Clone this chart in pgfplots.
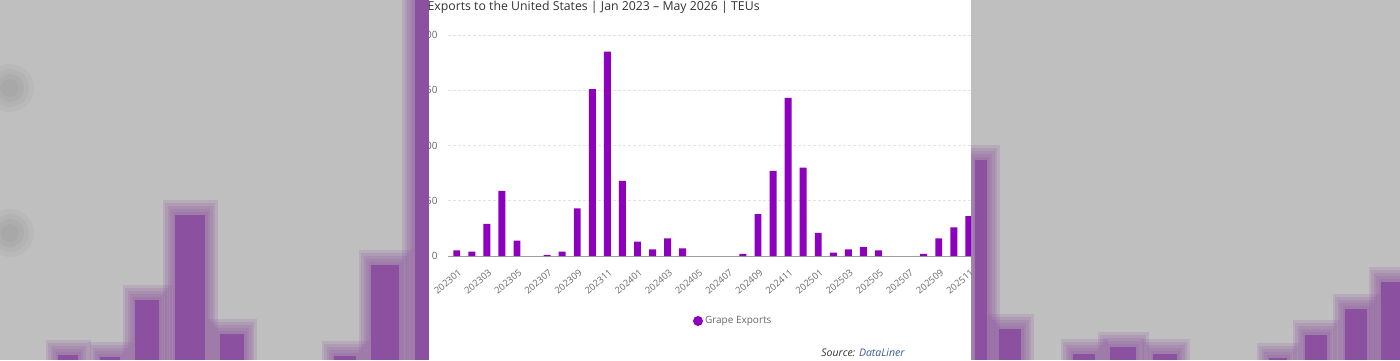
\documentclass[border=0pt]{standalone}
\usepackage{pgfplots}
\pgfplotsset{compat=1.18}
\usepackage{fontspec}
\setmainfont{Open Sans}

\definecolor{bggray}{RGB}{191,191,191}
\definecolor{bgpurple}{RGB}{140,80,160}
\definecolor{barpurple}{RGB}{140,0,190}
\definecolor{txtgray}{RGB}{105,105,105}
\definecolor{titlegray}{RGB}{50,50,50}
\definecolor{srcblue}{RGB}{60,90,155}

% soft backdrop bar (center, height, width): faint halos, then the core
\newcommand\halo[4]{% center, height, width, step
  \pgfmathsetmacro\ww{#3+5*#4}\pgfmathsetmacro\hh{#2+3*#4}%
  \edef\tmp{\noexpand\addplot[ybar, bar width=\ww, fill=bgpurple, draw=none, opacity=0.17] coordinates {(#1,\hh)};}\tmp
}
\newcommand\softbar[3]{%
  \halo{#1}{#2}{#3}{5}\halo{#1}{#2}{#3}{4}\halo{#1}{#2}{#3}{3}%
  \halo{#1}{#2}{#3}{2}\halo{#1}{#2}{#3}{1}%
  \edef\tmp{\noexpand\addplot[ybar, bar width=#3, fill=bgpurple, draw=none] coordinates {(#1,#2)};}\tmp
}

\begin{document}
\begin{tikzpicture}[x=1pt,y=1pt]
\fill[bggray] (0,0) rectangle (1400,360);
% blurred tick numbers of the backdrop: stacked faint layers
\foreach \yy in {272,127}{
  \foreach \r in {24,19,14,9}{
    \fill[gray!60!black, opacity=0.05, rounded corners=\r pt]
      (10-\r,\yy-\r) rectangle (10+\r,\yy+\r);
  }
}

% enlarged, blurred backdrop
\begin{axis}[at={(0pt,0pt)}, anchor=origin,
  width=1400pt, height=360pt, scale only axis,
  xmin=0, xmax=1400, ymin=0, ymax=360, hide axis]
  \softbar{422}{360}{15}
  \softbar{68}{5}{20}
  \softbar{110}{3}{20}
  \softbar{147}{60}{24}
  \softbar{190}{145}{30}
  \softbar{232}{26}{24}
  \softbar{345}{4}{22}
  \softbar{385}{95}{28}
  \softbar{981}{200}{12}
  \softbar{1010}{31}{22}
  \softbar{1084}{6}{22}
  \softbar{1123}{13}{26}
  \softbar{1165}{6}{24}
  \softbar{1278}{2}{18}
  \softbar{1316}{25}{22}
  \softbar{1356}{51}{22}
  \softbar{1392}{78}{22}
\end{axis}

% chart card
\fill[white] (429,0) rectangle (971,360);

\begin{scope}
\clip (429,0) rectangle (971,360);
\node[anchor=base west, font=\fontsize{12.3}{14}\selectfont, text=titlegray]
  at (424,350) {Exports to the United States | Jan 2023 – May 2026 | TEUs};

\begin{axis}[at={(448pt,104pt)}, anchor=south west,
  width=620pt, height=221pt, scale only axis,
  xmin=-0.58, xmax=40.58, ymin=0, ymax=200,
  axis x line*=bottom, axis y line*=left,
  x axis line style={draw=gray!75, line width=1pt},
  y axis line style={draw=none},
  major tick length=0pt,
  ytick={0,50,...,200},
  ymajorgrids,
  major grid style={draw=gray!22, dash pattern=on 3pt off 2pt, line width=0.6pt},
  /pgf/number format/assume math mode=true,
  yticklabel style={font=\fontsize{10}{12}\selectfont, text=txtgray, xshift=-7pt},
  xtick={0,2,...,34},
  xticklabels={202301,202303,202305,202307,202309,202311,202401,202403,202405,202407,202409,202411,202501,202503,202505,202507,202509,202511},
  xticklabel style={font=\fontsize{9.3}{11}\selectfont, text=txtgray, rotate=40, anchor=east, xshift=-4pt, yshift=-14pt},
  legend style={at={(0.46,-0.294)}, anchor=center, draw=none, fill=none,
    font=\fontsize{10}{12}\selectfont, text=txtgray},
]
\addplot[ybar, bar width=0.46, fill=barpurple, draw=none,
  legend image code/.code={\fill[barpurple] (0.2cm,0cm) circle (5pt);}]
  coordinates {
  (0,5) (1,4) (2,29) (3,59) (4,14) (6,1) (7,4) (8,43) (9,151) (10,185) (11,68)
  (12,13) (13,6) (14,16) (15,7) (19,2) (20,38) (21,77) (22,143) (23,80)
  (24,21) (25,3) (26,6) (27,8) (28,5) (31,2) (32,16) (33,26) (34,36)
  };
\addlegendentry{Grape Exports}
\end{axis}

\node[anchor=base east, font=\itshape\fontsize{10.5}{12}\selectfont]
  at (908,4) {\textcolor{titlegray}{Source:} \textcolor{srcblue}{DataLiner}};
\end{scope}

\pgfresetboundingbox
\path[use as bounding box] (0,0) rectangle (1400,360);
\end{tikzpicture}
\end{document}
